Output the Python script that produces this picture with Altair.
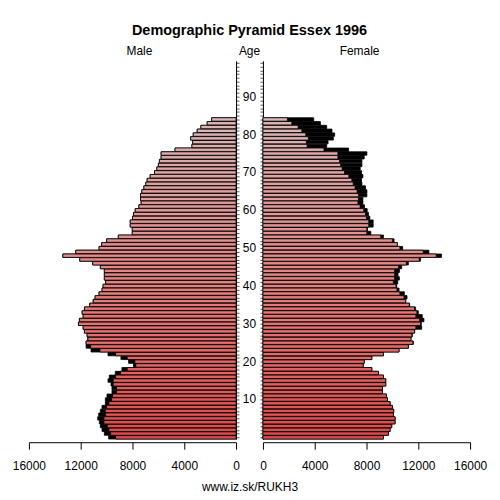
import altair as alt
import pandas as pd

ages = list(range(85))
male = [9843, 10174, 10353, 10481, 10558, 10686, 10610, 10481, 10353, 10097,
        10097, 9968, 9584, 9584, 9660, 9892, 9790, 9328, 8815, 7920,
        8303, 8893, 9892, 11200, 11583, 11583, 11458, 11506, 11712, 11812,
        12174, 12100, 11812, 11889, 11712, 11300, 11043, 10889, 10581, 10351,
        10274, 10074, 10174, 10174, 10174, 10481, 11073, 12073, 13380, 12381,
        10581, 10381, 9997, 9097, 8020, 8020, 8174, 8174, 7997, 7920,
        7790, 7505, 7330, 7380, 7380, 7275, 7120, 6970, 6867, 6636,
        6300, 6120, 6000, 5920, 5790, 5790, 4714, 3407, 3353, 3507,
        3307, 3000, 2715, 2230, 1890]
female = [9307, 9692, 9820, 9948, 10205, 10205, 10077, 10100, 10000, 9820,
          9615, 9538, 9230, 9230, 9486, 9486, 9307, 8922, 8410, 7743,
          7820, 8410, 9307, 10512, 11230, 11614, 11435, 11538, 11718, 12256,
          12230, 12435, 12307, 12000, 11794, 11333, 11025, 11128, 10922, 10512,
          10333, 10410, 10538, 10435, 10538, 10717, 11230, 12178, 13793, 12819,
          10794, 10384, 10128, 9307, 8333, 8075, 8512, 8512, 8256, 8150,
          8050, 7844, 7720, 7720, 8028, 8028, 7921, 7644, 7613, 7720,
          7613, 7513, 7644, 7644, 7820, 8028, 6614, 4922, 5029, 5437,
          5537, 5333, 4922, 4437, 3922]
age_labels = [10, 20, 30, 40, 50, 60, 70, 80, 90]
x_ticks = [0, 4000, 8000, 12000, 16000]
age_ticks = list(range(100))

df = pd.DataFrame({"age": ages, "male": male, "female": female})
df["common"] = df[["male", "female"]].min(axis=1)
df["lo"] = df["age"] - 0.45
df["hi"] = df["age"] + 0.45

FONT = "Liberation Sans"
W, H, MID = 208, 380, 27
yscale = alt.Scale(domain=[-0.5, 99.5], nice=False, zero=False)
color = alt.Color("age:Q", scale=alt.Scale(domain=[0, 100], range=["#e04848", "#d3caca"]), legend=None)
noframe = alt.ViewBackground(stroke="transparent", strokeWidth=0)


def side(field, reverse, yorient, title, dx):
    xs = alt.Scale(domain=[0, 16000], reverse=reverse, nice=False)
    xaxis = alt.Axis(values=x_ticks, format="d", offset=3, tickSize=7, labelFontSize=12,
                     labelPadding=11, domainColor="black", tickColor="black", labelColor="black",
                     title=None, grid=False, labelFont=FONT, labelFlush=False)
    yaxis = alt.Axis(orient=yorient, values=age_ticks, tickSize=3, labels=False, title=None,
                     grid=False, domainColor="black", tickColor="#333", tickWidth=0.8)
    base = alt.Chart(df)
    excess = base.mark_rect(color="black", stroke="black", strokeWidth=0.8).encode(
        x=alt.X(f"{field}:Q", scale=xs, axis=xaxis),
        x2=alt.datum(0),
        y=alt.Y("lo:Q", scale=yscale, axis=yaxis),
        y2="hi:Q",
    )
    common = base.mark_rect(stroke="black", strokeWidth=0.8).encode(
        x=alt.X("common:Q", scale=xs, axis=xaxis),
        x2=alt.datum(0),
        y=alt.Y("lo:Q", scale=yscale, axis=yaxis),
        y2="hi:Q",
        fill=color,
    )
    return alt.layer(excess, common).properties(
        width=W, height=H, view=noframe,
        title=alt.TitleParams(title, fontSize=12, fontWeight="normal", font=FONT,
                              anchor="middle", dx=dx, baseline="alphabetic", offset=-6),
    )


left = side("male", True, "right", "Male", 7)
right = side("female", False, "left", "Female", -7)

mid_df = pd.DataFrame({"age": age_labels})
middle = alt.Chart(mid_df).transform_calculate(mid="0.5").mark_text(
    fontSize=12, font=FONT, color="black", baseline="middle", align="center"
).encode(
    x=alt.X("mid:Q", scale=alt.Scale(domain=[0, 1]),
            axis=alt.Axis(title="www.iz.sk/RUKH3", labels=False, ticks=False, domain=False,
                          grid=False, titlePadding=42, titleFontSize=12,
                          titleFontWeight="normal", titleFont=FONT, titleColor="black")),
    y=alt.Y("age:Q", scale=yscale, axis=None),
    text="age:Q",
).properties(
    width=MID, height=H, view=noframe,
    title=alt.TitleParams("Age", fontSize=12, fontWeight="normal", font=FONT,
                          anchor="middle", baseline="alphabetic", offset=-6),
)

chart = alt.hconcat(left, middle, right, spacing=0, bounds="flush").properties(
    title=alt.TitleParams("Demographic Pyramid Essex 1996", fontSize=14.5, fontWeight="bold",
                          font=FONT, anchor="middle", offset=-5, baseline="alphabetic"),
    padding={"left": 4, "top": 14, "right": 5, "bottom": 5},
).configure_view(strokeWidth=0, stroke="transparent").configure(font=FONT)

chart.save("out.html", embed_options={"renderer": "svg", "actions": False})
